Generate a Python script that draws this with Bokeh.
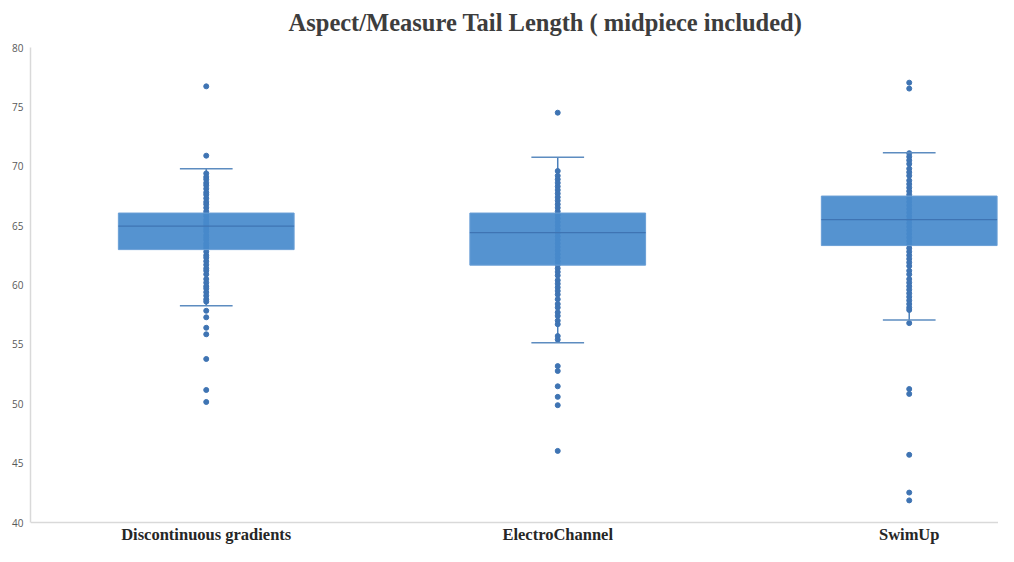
from bokeh.plotting import figure
from bokeh.models import FixedTicker, Range1d, Label
from bokeh.embed import file_html
from bokeh.resources import INLINE

# ---------------- data ----------------
categories = ["Discontinuous gradients", "ElectroChannel", "SwimUp"]
q1 = [62.98, 61.67, 63.32]
median = [64.96, 64.41, 65.51]
q3 = [66.06, 66.06, 67.49]
whisker_low = [58.25, 55.14, 57.06]
whisker_high = [69.80, 70.75, 71.14]

points_dg = [76.73, 70.89,
             69.4, 69.1, 68.9, 68.6, 68.4, 68.1, 67.8, 67.6, 67.3, 67.0, 66.8,
             66.5, 66.2, 66.0, 65.8, 65.5, 65.3, 65.1, 64.9, 64.7, 64.5, 64.2,
             64.0, 63.8, 63.5, 63.3, 63.1, 62.8, 62.5, 62.3, 62.0, 61.7, 61.4,
             61.2, 60.9, 60.5, 60.2, 59.9, 59.7, 59.4, 59.1, 58.8, 58.6,
             57.83, 57.28, 56.40, 55.85, 53.77, 51.16, 50.15]
points_ec = [74.51,
             69.6, 69.2, 68.9, 68.6, 68.3, 68.0, 67.7, 67.4, 67.1, 66.8, 66.5,
             66.2, 65.9, 65.6, 65.3, 65.0, 64.7, 64.4, 64.1, 63.8, 63.5, 63.2,
             62.9, 62.6, 62.3, 62.0, 61.7, 61.4, 61.1, 60.8, 60.4, 60.1, 59.8,
             59.5, 59.2, 58.8, 58.4, 58.1, 57.7, 57.4, 57.0, 56.7, 55.7, 55.4,
             53.17, 52.76, 51.47, 50.58, 49.88, 46.03]
points_su = [77.04, 76.54,
             71.1, 70.8, 70.5, 70.2, 69.8, 69.5, 69.2, 68.8, 68.5, 68.2, 67.9,
             67.6, 67.3, 67.0, 66.7, 66.4, 66.1, 65.8, 65.5, 65.2, 64.9, 64.6,
             64.3, 64.0, 63.7, 63.4, 63.1, 62.8, 62.5, 62.2, 61.9, 61.6, 61.2,
             60.9, 60.5, 60.2, 59.9, 59.6, 59.3, 59.0, 58.7, 58.4, 58.1, 57.9,
             56.79, 51.24, 50.83, 45.70, 42.52, 41.86]
all_points = [points_dg, points_ec, points_su]

y_ticks = [40, 45, 50, 55, 60, 65, 70, 75, 80]
title_text = "Aspect/Measure Tail Length ( midpiece included)"

# ---------------- figure ----------------
y_min, y_max = 40, 80
p = figure(width=998, height=546, output_backend="svg", toolbar_location=None,
           x_range=Range1d(-0.5, 2.254), y_range=Range1d(37.979, 83.958),
           min_border_left=30, min_border_right=0, min_border_top=0,
           min_border_bottom=0)
p.outline_line_color = None
p.grid.grid_line_color = None
p.background_fill_color = "white"
p.border_fill_color = "white"

xs = list(range(len(categories)))
box_w = 0.5
cap_w = 0.15

dot_col = "#3f74b3"

px, py = [], []
for i, pts in enumerate(all_points):
    px += [i] * len(pts)
    py += pts

# whisker stems
p.segment(x0=xs, y0=whisker_low, x1=xs, y1=whisker_high, line_color="#4a7fba", line_width=1.5)
# points (under the semi-opaque boxes)
p.scatter(px, py, size=5, fill_color=dot_col, line_color=dot_col)
# caps
p.segment(x0=[x - cap_w / 2 for x in xs], y0=whisker_high, x1=[x + cap_w / 2 for x in xs],
          y1=whisker_high, line_color="#5d8cc0", line_width=1.5)
p.segment(x0=[x - cap_w / 2 for x in xs], y0=whisker_low, x1=[x + cap_w / 2 for x in xs],
          y1=whisker_low, line_color="#5d8cc0", line_width=1.5)
# boxes
p.vbar(x=xs, width=box_w, bottom=q1, top=q3, fill_color="#488bcc", fill_alpha=0.93,
       line_color="#6a9fd6", line_width=1)
# medians
p.segment(x0=[x - box_w / 2 for x in xs], y0=median, x1=[x + box_w / 2 for x in xs],
          y1=median, line_color="#3f74b3", line_width=1.2)

# title
p.add_layout(Label(x=0.965, y=82.105, text=title_text, text_align="center",
                   text_baseline="middle", text_font="Liberation Serif",
                   text_font_size="24.5px", text_font_style="bold",
                   text_color="#3d3d3d"))

# axes
p.xaxis.fixed_location = y_min
p.xaxis.ticker = FixedTicker(ticks=xs)
p.xaxis.major_label_overrides = {i: c for i, c in enumerate(categories)}
p.xaxis.major_label_text_font = "Liberation Serif"
p.xaxis.major_label_text_font_style = "bold"
p.xaxis.major_label_text_font_size = "16.5px"
p.xaxis.major_label_text_color = "#262626"
p.xaxis.major_label_standoff = 2
p.xaxis.major_tick_line_color = None
p.xaxis.major_tick_out = 0
p.xaxis.major_tick_in = 0
p.xaxis.minor_tick_line_color = None
p.xaxis.axis_line_color = "#d9d9d9"
p.xaxis.axis_line_width = 1.5

p.yaxis.bounds = (y_min, y_max)
p.yaxis.ticker = FixedTicker(ticks=y_ticks)
p.yaxis.major_label_text_font = "Open Sans"
p.yaxis.major_label_text_font_size = "10px"
p.yaxis.major_label_text_color = "#595959"
p.yaxis.major_label_standoff = 7
p.yaxis.major_tick_line_color = None
p.yaxis.major_tick_out = 0
p.yaxis.major_tick_in = 0
p.yaxis.minor_tick_line_color = None
p.yaxis.axis_line_color = "#d9d9d9"
p.yaxis.axis_line_width = 1.5

open("out.html", "w").write(file_html(p, INLINE))
